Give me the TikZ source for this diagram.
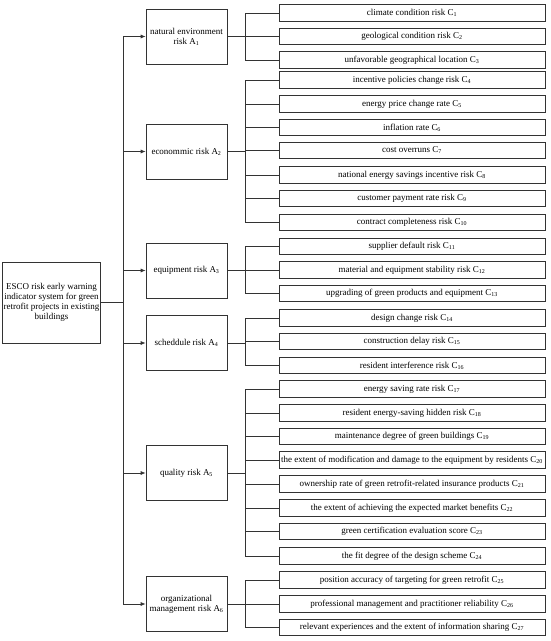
\documentclass[tikz,border=0pt]{standalone}
\usepackage{fontspec}
\setmainfont{Liberation Serif}
\usetikzlibrary{arrows.meta}
\usetikzlibrary{positioning}
\newcommand{\lowidx}[1]{\textsubscript{#1}}
\tikzset{
	boxline/.style={draw=black!80, line width=0.7pt},
	rootbox/.style={boxline, minimum width=96pt, minimum height=81pt, align=center, inner sep=1pt},
	riskbox/.style={boxline, minimum width=81pt, minimum height=55pt, align=center, inner sep=1pt},
	itembox/.style={boxline, minimum width=266pt, minimum height=16.5pt, inner sep=1pt},
	link/.style={draw=black!80, line width=0.7pt},
	arr/.style={link, -{Latex[length=5pt,width=4pt]}}
}

\begin{document}
\begin{tikzpicture}[x=1pt, y=-1pt, font=\fontsize{9}{10.2}\selectfont]
				\useasboundingbox (0,0) rectangle (550,641);
				% root and first level
				\node[rootbox] (root) at (51.5,302.5) {ESCO risk early warning\\indicator system for green\\retrofit projects in existing\\buildings};
				\node[riskbox] (A1) at (186.5,36.5) {natural environment\\risk A\lowidx{1}};
				\node[riskbox] (A2) at (186.5,151.5) {econommic risk A\lowidx{2}};
				\node[riskbox] (A3) at (186.5,270.5) {equipment risk A\lowidx{3}};
				\node[riskbox] (A4) at (186.5,343) {scheddule risk A\lowidx{4}};
				\node[riskbox] (A5) at (186.5,473) {quality risk A\lowidx{5}};
				\node[riskbox] (A6) at (186.5,604) {organizational\\management risk A\lowidx{6}};
				
				% second level
				\node[itembox] (C1) at (412,13) {climate condition risk C\lowidx{1}};
				\node[itembox] (C2) at (412,36.5) {geological condition risk C\lowidx{2}};
				\node[itembox] (C3) at (412,60) {unfavorable geographical location C\lowidx{3}};
				\node[itembox] (C4) at (412,80) {incentive policies change risk C\lowidx{4}};
				\node[itembox] (C5) at (412,104) {energy price change rate C\lowidx{5}};
				\node[itembox] (C6) at (412,127.5) {inflation rate C\lowidx{6}};
				\node[itembox] (C7) at (412,150.5) {cost overruns C\lowidx{7}};
				\node[itembox] (C8) at (412,175) {national energy savings incentive risk C\lowidx{8}};
				\node[itembox] (C9) at (412,198.5) {customer payment rate risk C\lowidx{9}};
				\node[itembox] (C10) at (412,222.5) {contract completeness risk C\lowidx{10}};
				\node[itembox] (C11) at (412,246.5) {supplier default risk C\lowidx{11}};
				\node[itembox] (C12) at (412,270) {material and equipment stability risk C\lowidx{12}};
				\node[itembox] (C13) at (412,293.5) {upgrading of green products and equipment C\lowidx{13}};
				\node[itembox] (C14) at (412,318) {design change risk C\lowidx{14}};
				\node[itembox] (C15) at (412,341.5) {construction delay risk C\lowidx{15}};
				\node[itembox] (C16) at (412,365.5) {resident interference risk C\lowidx{16}};
				\node[itembox] (C17) at (412,389) {energy saving rate risk C\lowidx{17}};
				\node[itembox] (C18) at (412,413) {resident energy-saving hidden risk C\lowidx{18}};
				\node[itembox] (C19) at (412,436.5) {maintenance degree of green buildings C\lowidx{19}};
				\node[itembox] (C20) at (412,460) {the extent of modification and damage to the equipment by residents C\lowidx{20}};
				\node[itembox] (C21) at (412,484) {ownership rate of green retrofit-related insurance products C\lowidx{21}};
				\node[itembox] (C22) at (412,508) {the extent of achieving the expected market benefits C\lowidx{22}};
				\node[itembox] (C23) at (412,531.5) {green certification evaluation score C\lowidx{23}};
				\node[itembox] (C24) at (412,556) {the fit degree of the design scheme C\lowidx{24}};
				\node[itembox] (C25) at (412,580) {position accuracy of targeting for green retrofit C\lowidx{25}};
				\node[itembox] (C26) at (412,604) {professional management and practitioner reliability C\lowidx{26}};
				\node[itembox] (C27) at (412,627.5) {relevant experiences and the extent of information sharing C\lowidx{27}};
				
				% trunk and buses
				\coordinate (trunk) at (123,0);
				\coordinate (bus) at (245,0);
				\draw[link] (root.east) -- (trunk |- root.east);
				\draw[link] (trunk |- A1) -- (trunk |- A6);
				\foreach \a in {1,...,6}
					\draw[arr] (trunk |- A\a) -- (A\a.west);
				\foreach \a/\first/\last in {1/1/3, 2/4/10, 3/11/13, 4/14/16, 5/17/24, 6/25/27}
					\draw[link] (A\a.east) -- (bus |- A\a) (bus |- C\first) -- (bus |- C\last);
				\foreach \c in {1,...,27}
					\draw[link] (bus |- C\c) -- (C\c.west);
			\end{tikzpicture}
\end{document}
